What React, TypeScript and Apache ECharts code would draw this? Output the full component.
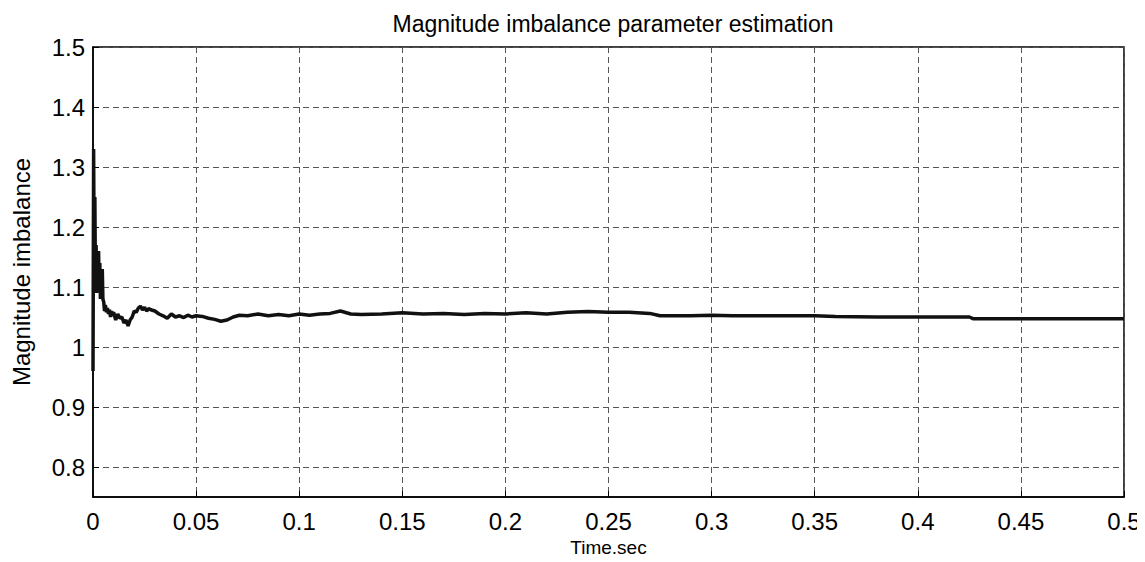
import React, { useEffect, useRef } from "react";
import * as echarts from "echarts";

const timeSec: number[] = [
  0, 0.0003, 0.0006, 0.0009, 0.0012, 0.0015, 0.0018, 0.0021, 0.0024, 0.0027,
  0.003, 0.0033, 0.0036, 0.0039, 0.0042, 0.0045, 0.0048, 0.0052, 0.0056, 0.006,
  0.0065, 0.007, 0.0075, 0.008, 0.0085, 0.009, 0.0095, 0.01, 0.011, 0.012,
  0.013, 0.014, 0.015, 0.016, 0.017, 0.018, 0.019, 0.02, 0.021, 0.022,
  0.023, 0.024, 0.025, 0.026, 0.027, 0.028, 0.03, 0.032, 0.034, 0.036,
  0.038, 0.04, 0.042, 0.044, 0.046, 0.048, 0.05, 0.053, 0.056, 0.059,
  0.062, 0.065, 0.068, 0.071, 0.075, 0.08, 0.085, 0.09, 0.095, 0.1,
  0.105, 0.11, 0.115, 0.12, 0.125, 0.13, 0.14, 0.15, 0.16, 0.17,
  0.18, 0.19, 0.2, 0.21, 0.22, 0.23, 0.24, 0.25, 0.26, 0.27,
  0.275, 0.29, 0.3, 0.31, 0.32, 0.35, 0.36, 0.38, 0.4, 0.425,
  0.427, 0.5,
];

const magnitudeImbalance: number[] = [
  0.96, 1.33, 1.12, 1.25, 1.1, 1.17, 1.09, 1.15, 1.12, 1.16,
  1.1, 1.14, 1.08, 1.13, 1.09, 1.13, 1.08, 1.075, 1.06, 1.07,
  1.058, 1.065, 1.055, 1.062, 1.05, 1.06, 1.052, 1.058, 1.045, 1.055,
  1.048, 1.05, 1.04, 1.045, 1.035, 1.045, 1.05, 1.06, 1.058, 1.065,
  1.068, 1.062, 1.066, 1.06, 1.064, 1.062, 1.06, 1.055, 1.052, 1.048,
  1.055, 1.05, 1.052, 1.049, 1.053, 1.05, 1.052, 1.051, 1.048, 1.046,
  1.043, 1.045, 1.05, 1.053, 1.052, 1.055, 1.052, 1.054, 1.052, 1.055,
  1.053, 1.055, 1.056, 1.06, 1.055, 1.054, 1.055, 1.057, 1.055, 1.056,
  1.054, 1.056, 1.055, 1.057, 1.055, 1.058, 1.059, 1.058, 1.058, 1.056,
  1.052, 1.052, 1.053, 1.052, 1.052, 1.052, 1.051, 1.05, 1.05, 1.05,
  1.047, 1.047,
];

const yTicks: number[] = [0.8, 0.9, 1.0, 1.1, 1.2, 1.3, 1.4, 1.5];

const FONT = "'Liberation Sans', Arial, Helvetica, sans-serif";

export default function App() {
  const ref = useRef<HTMLDivElement>(null);
  useEffect(() => {
    if (!ref.current) return;
    const chart = echarts.init(ref.current, undefined, { renderer: "svg" });
    const gridLine = { show: true, lineStyle: { color: "#555", type: [6, 4] as any, width: 1 } };
    chart.setOption({
      animation: false,
      backgroundColor: "#fff",
      title: {
        text: "Magnitude imbalance parameter estimation",
        left: 608,
        textAlign: "center",
        top: 7,
        textStyle: { fontFamily: FONT, fontSize: 23, fontWeight: "normal", color: "#000" },
      },
      grid: {
        left: 93,
        right: 21,
        top: 47,
        bottom: 65,
        show: true,
        borderColor: "#000",
        borderWidth: 1.5,
        backgroundColor: "#fff",
      },
      xAxis: {
        type: "value",
        min: 0,
        max: 0.5,
        interval: 0.05,
        name: "Time,sec",
        nameLocation: "middle",
        nameGap: 41,
        nameTextStyle: { fontFamily: FONT, fontSize: 19, color: "#000" },
        axisLine: { show: true, lineStyle: { color: "#000", width: 1.5 } },
        axisTick: { show: true, inside: true, length: 6, lineStyle: { color: "#000" } },
        axisLabel: { fontFamily: FONT, fontSize: 24, color: "#000", margin: 12 },
        splitLine: gridLine,
      },
      yAxis: {
        type: "value",
        min: 0.75,
        max: 1.5,
        name: "Magnitude imbalance",
        nameLocation: "middle",
        nameGap: 60,
        nameTextStyle: { fontFamily: FONT, fontSize: 24, color: "#000" },
        axisLine: { show: true, lineStyle: { color: "#000", width: 1.5 } },
        axisTick: { show: true, inside: true, length: 6, customValues: yTicks, lineStyle: { color: "#000" } },
        axisLabel: {
          fontFamily: FONT,
          fontSize: 24,
          color: "#000",
          margin: 8,
          customValues: yTicks,
          formatter: (v: number) => String(Math.round(v * 10) / 10),
        },
        splitLine: { ...gridLine, customValues: yTicks },
      },
      series: [
        {
          type: "line",
          data: timeSec.map((t, i) => [t, magnitudeImbalance[i]]),
          showSymbol: false,
          lineStyle: { color: "#111", width: 3.5 },
          clip: true,
        },
      ],
    });
    return () => chart.dispose();
  }, []);
  return <div ref={ref} style={{ width: 1145, height: 562, margin: -8 }} />;
}
